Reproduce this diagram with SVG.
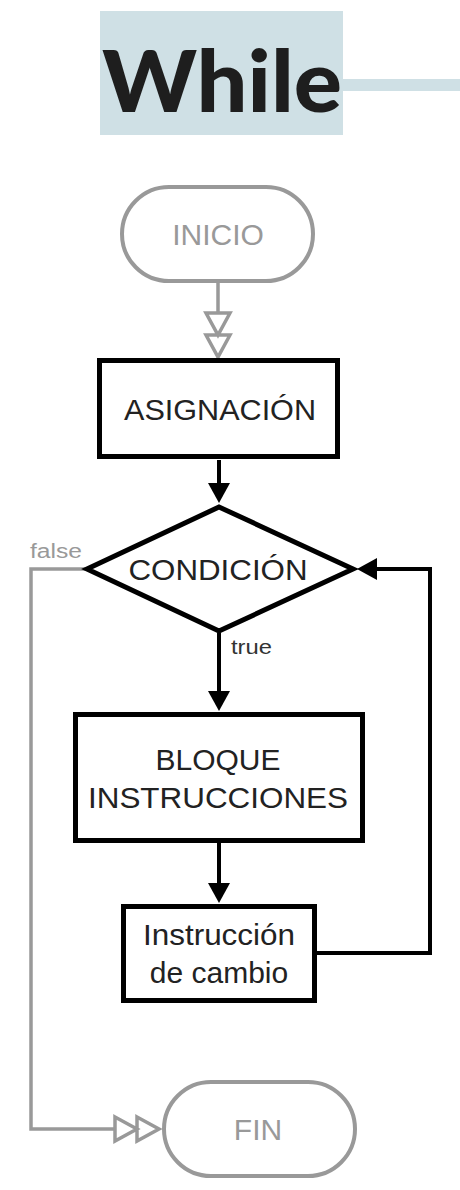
<svg xmlns="http://www.w3.org/2000/svg" width="460" height="1190" viewBox="0 0 460 1190">
<style>
.t{font-family:"Liberation Sans",Arial,Helvetica,sans-serif;font-size:30px;text-anchor:middle;fill:#222}
.g{fill:#999}
.box{fill:#fff;stroke:#000;stroke-width:5}
.term{fill:#fff;stroke:#999;stroke-width:4}
.lk{fill:none;stroke:#000;stroke-width:4}
.lg{fill:none;stroke:#999;stroke-width:3.5}
.lbl{font-family:"Liberation Sans",Arial,Helvetica,sans-serif;font-size:20px}
</style>
<defs>
<marker id="af" markerUnits="userSpaceOnUse" orient="auto" refX="0" refY="0" markerWidth="30" markerHeight="30" overflow="visible">
<path d="M-2,-11 L18,0 L-2,11 Z" fill="#000"/>
</marker>
<marker id="ah" markerUnits="userSpaceOnUse" orient="auto" refX="0" refY="0" markerWidth="50" markerHeight="30" overflow="visible">
<path d="M0,-12 L22,0 L0,12 Z M22,-12 L44,0 L22,12 Z" fill="#fff" stroke="#999" stroke-width="3.5" stroke-linejoin="miter"/>
</marker>
</defs>
<g id="title">
<rect x="100" y="11" width="243" height="124" fill="#cfe0e5"/>
<rect x="343" y="79" width="117" height="12" fill="#cfe0e5"/>
<text x="102" y="112" font-family="Lato,'Open Sans','Liberation Sans',sans-serif" font-weight="900" font-size="86" fill="#1e1e1e" textLength="240" lengthAdjust="spacingAndGlyphs">While</text>
</g>
<g id="connectors">
<path class="lg" d="M218,283 V313" marker-end="url(#ah)"/>
<path class="lk" d="M219,460 V485" marker-end="url(#af)"/>
<path class="lk" d="M219,633 V693" marker-end="url(#af)"/>
<path class="lk" d="M219,843 V885" marker-end="url(#af)"/>
<path class="lk" d="M317,953 H430 V569 H375" marker-end="url(#af)"/>
<path class="lg" d="M85,569 H31 V1129 H115" marker-end="url(#ah)"/>
<text class="lbl" x="30" y="558" fill="#999" textLength="52" lengthAdjust="spacingAndGlyphs">false</text>
<text class="lbl" x="231" y="654" fill="#333" textLength="41" lengthAdjust="spacingAndGlyphs">true</text>
</g>
<g id="inicio">
<rect class="term" x="122" y="187" width="191" height="94" rx="47"/>
<text class="t g" x="218" y="245">INICIO</text>
</g>
<g id="asignacion">
<rect class="box" x="99.5" y="360.5" width="238" height="96"/>
<text class="t" x="220" y="420" textLength="192" lengthAdjust="spacingAndGlyphs">ASIGNACIÓN</text>
</g>
<g id="condicion">
<polygon class="box" points="219,507 353,569 219,631 87,569"/>
<text class="t" x="218" y="580" textLength="179" lengthAdjust="spacingAndGlyphs">CONDICIÓN</text>
</g>
<g id="bloque">
<rect class="box" x="75.5" y="714.5" width="287" height="126"/>
<text class="t" x="218" y="770">BLOQUE</text>
<text class="t" x="218" y="808" textLength="260" lengthAdjust="spacingAndGlyphs">INSTRUCCIONES</text>
</g>
<g id="cambio">
<rect class="box" x="123.5" y="906.5" width="191" height="94"/>
<text class="t" x="219" y="945" textLength="152" lengthAdjust="spacingAndGlyphs">Instrucción</text>
<text class="t" x="219" y="983">de cambio</text>
</g>
<g id="fin">
<rect class="term" x="164" y="1082" width="191" height="94" rx="47"/>
<text class="t g" x="258" y="1140">FIN</text>
</g>
</svg>
